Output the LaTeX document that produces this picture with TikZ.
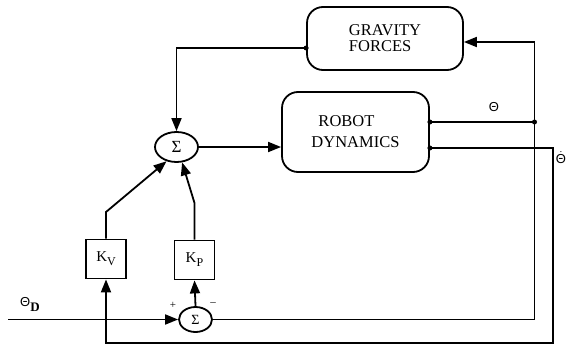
\documentclass[tikz,border=0pt]{standalone}
\usepackage{fontspec}
\setmainfont{Liberation Serif}
\newfontfamily\thetafont{Liberation Sans}
\usetikzlibrary{arrows.meta, shapes.geometric}

\begin{document}
\begin{tikzpicture}[x=1pt, y=-1pt, line width=1.8pt,
  >={Triangle[length=13pt, width=10pt]},
  block/.style={draw, rounded corners=16pt, align=left, inner sep=0pt},
  gain/.style={draw, minimum width=40pt, minimum height=39pt, inner sep=0pt, font=\fontsize{15}{17}\selectfont},
  sumnode/.style={draw, ellipse, inner sep=0pt},
  junct/.style={circle, fill, inner sep=0pt, minimum size=5pt},
  sig/.style={font=\thetafont\fontsize{13}{15}\selectfont}]
  \useasboundingbox (0,0) rectangle (567,345);

  % Blocks
  \node[block, minimum width=156pt, minimum height=63pt, font=\fontsize{16.5}{16}\selectfont] (gravity) at (385,38.5) {GRAVITY\\FORCES};
  \node[block, minimum width=147pt, minimum height=80pt, font=\fontsize{16.5}{21}\selectfont] (robot) at (355.5,132) {\hspace{7pt}ROBOT\\DYNAMICS};

  % Summing junctions
  \node[sumnode, minimum width=43pt, minimum height=30pt, font=\fontsize{17}{19}\selectfont] (sum) at (176.5,147) {Σ};
  \node[sumnode, minimum width=33pt, minimum height=25pt, font=\fontsize{14}{16}\selectfont] (err) at (195.5,319.5) {Σ};

  % Gains
  \node[gain] (kv) at (106,259) {K\raisebox{-4pt}{\fontsize{12}{12}\selectfont V}};
  \node[gain] (kp) at (194.5,260) {K\raisebox{-4pt}{\fontsize{12}{12}\selectfont P}};

  % Labels
  \node[sig] (thlab) at (494,107) {Θ};
  \node[sig] (dthlab) at (561,158) {$\dot{\hbox{\thetafont\fontsize{13}{15}\selectfont Θ}}$};
  \node[sig, anchor=west] (thdlab) at (16,304) {Θ\raisebox{-5pt}{\fontsize{13}{13}\selectfont\rmfamily\bfseries D}};
  \node[font=\fontsize{11}{11}\selectfont] (plus) at (173,305) {+};
  \node[font=\fontsize{11}{11}\selectfont] (minus) at (213,304) {–};

  % Junction points
  \coordinate (gout) at (gravity.west |- 0,48);
  \coordinate (gin) at (gravity.east |- 0,42);
  \coordinate (thout) at (robot.east |- 0,122);
  \coordinate (dthout) at (robot.east |- 0,148);
  \coordinate (thj) at (534.5,122);
  \coordinate (dthc) at (553,343);
  \coordinate (thdin) at (8,319.5);
  \coordinate (kvbend) at (kv.north |- 0,212);
  \coordinate (kpbend) at (kp.north |- 0,203);

  % Forward path
  \draw[->] (gout) -| (sum.north);
  \draw[->] (sum.east) -- (sum.east -| robot.west);
  \draw[->] (kv.north) -- (kvbend) -- (sum.235);
  \draw[->] (kp.north) -- (kpbend) -- (sum.290);
  % Feedback of position
  \draw (thout) -- (thj);
  \draw[->] (thj) |- (gin);
  \draw (err.east) -| (thj);
  % Feedback of velocity
  \draw[->] (dthout) -| (dthc) -| (kv.south);
  % Input and error
  \draw[->] (thdin) -- (err.west);
  \draw[->] (err.north) -- (kp.south);

  \foreach \p in {gout, thout, dthout, thj}
    \node[junct] (dot-\p) at (\p) {};
\end{tikzpicture}
\end{document}
